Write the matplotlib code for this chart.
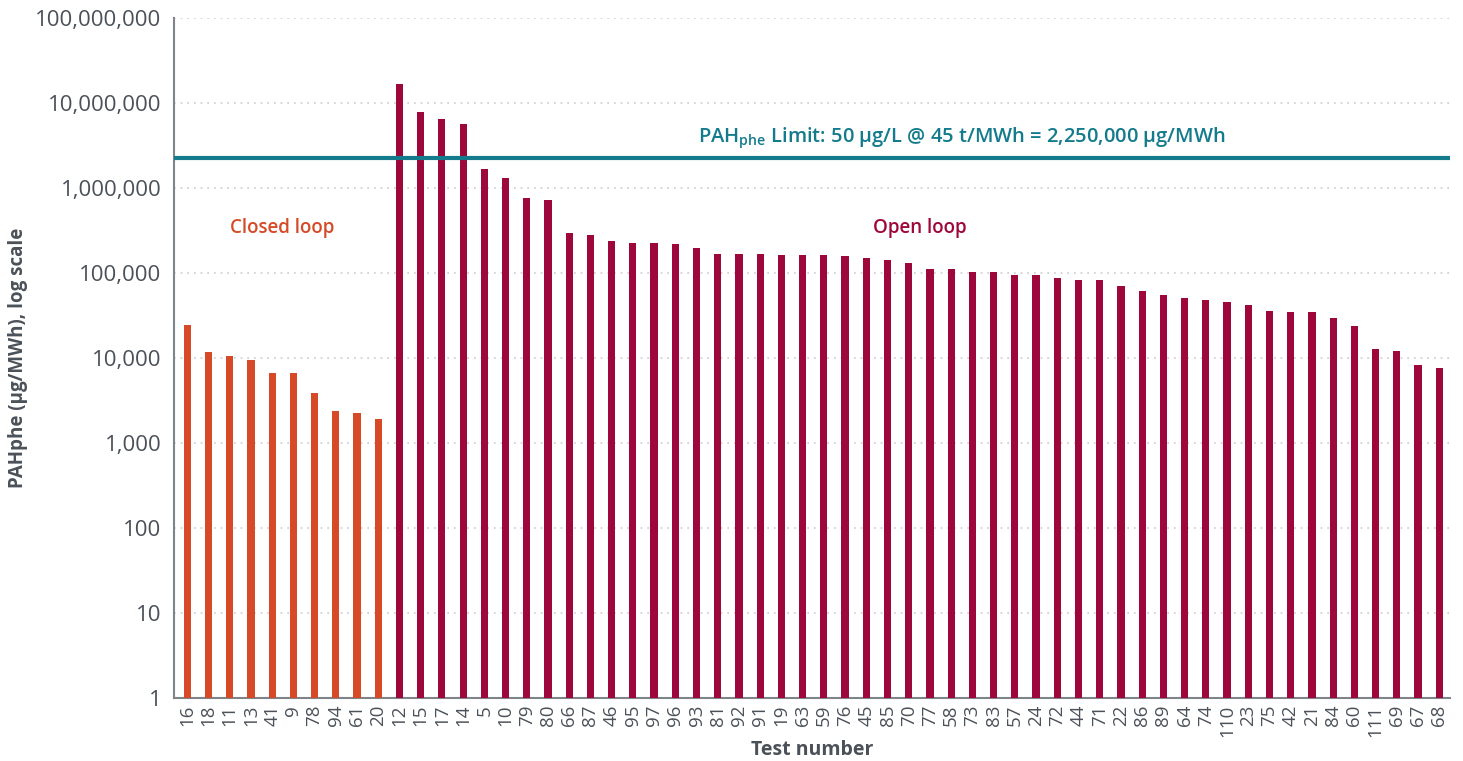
import numpy as np
import matplotlib
matplotlib.use('Agg')
import matplotlib.pyplot as plt
from matplotlib.ticker import FixedLocator, FuncFormatter, NullLocator

# closed loop tests
closed_tests = ['16', '18', '11', '13', '41', '9', '78', '94', '61', '20']
closed_vals = [24400, 11800, 10500, 9500, 6700, 6700, 3870, 2380, 2240, 1920]

# open loop tests
open_tests = ['12', '15', '17', '14', '5', '10', '79', '80', '66', '87',
              '46', '95', '97', '96', '93', '81', '92', '91', '19', '63',
              '59', '76', '45', '85', '70', '77', '58', '73', '83', '57',
              '24', '72', '44', '71', '22', '86', '89', '64', '74', '110',
              '23', '75', '42', '21', '84', '60', '111', '69', '67', '68']
open_vals = [16700000, 7900000, 6600000, 5700000, 1670000, 1310000, 770000, 730000, 300000, 283000,
             240000, 227000, 227000, 220000, 196000, 170000, 170000, 170000, 165000, 165000,
             165000, 158000, 150000, 144000, 131000, 112000, 112000, 102000, 102000, 95000,
             95000, 88000, 83000, 83000, 70000, 62000, 55000, 51000, 48000, 46000,
             42000, 36000, 35000, 35000, 30000, 24000, 12700, 12000, 8300, 7700]

limit_value = 2250000
y_ticks = [1, 10, 100, 1000, 10000, 100000, 1000000, 10000000, 100000000]

CLOSED_COLOR = '#D64A27'
OPEN_COLOR = '#9E073B'
LIMIT_COLOR = '#137B8C'
TEXT_COLOR = '#4B5159'
SPINE_COLOR = '#7F848A'

plt.rcParams['font.family'] = ['Open Sans', 'DejaVu Sans']

fig = plt.figure(figsize=(14.63, 7.61), dpi=100)
ax = fig.add_axes([0.119, 0.083, 0.872, 0.893])

x_closed = np.arange(len(closed_tests))
x_open = np.arange(len(open_tests)) + len(closed_tests)

ax.bar(x_closed, closed_vals, width=0.34, color=CLOSED_COLOR, zorder=3)
ax.bar(x_open, open_vals, width=0.34, color=OPEN_COLOR, zorder=3)

ax.set_yscale('log')
ax.set_ylim(1, 1e8)
ax.set_xlim(-0.62, len(closed_tests) + len(open_tests) - 0.5)

ax.yaxis.set_major_locator(FixedLocator(y_ticks))
ax.yaxis.set_minor_locator(NullLocator())
ax.yaxis.set_major_formatter(FuncFormatter(lambda v, p: f'{int(round(v)):,}'))

ax.axhline(limit_value, color=LIMIT_COLOR, linewidth=3, zorder=4)
ax.text(36.5, 3.9e6, r'PAH$_{\mathregular{phe}}$ Limit: 50 µg/L @ 45 t/MWh = 2,250,000 µg/MWh',
        color=LIMIT_COLOR, fontsize=14.5, fontweight='semibold', ha='center', va='center')

ax.text(4.47, 3.4e5, 'Closed loop', color=CLOSED_COLOR, fontsize=13.5,
        fontweight='semibold', ha='center', va='center')
ax.text(34.5, 3.4e5, 'Open loop', color=OPEN_COLOR, fontsize=13.5,
        fontweight='semibold', ha='center', va='center')

ax.set_xticks(np.concatenate([x_closed, x_open]))
ax.set_xticklabels(closed_tests + open_tests, rotation=90)

ax.tick_params(axis='both', length=0, colors=TEXT_COLOR)
ax.tick_params(axis='y', pad=9, labelsize=16)
ax.tick_params(axis='x', pad=5, labelsize=13.5)

ax.grid(axis='y', color='#CCCCCC', linestyle=(0, (1, 3)), linewidth=1.2, zorder=0)

for side in ['top', 'right']:
    ax.spines[side].set_visible(False)
ax.spines['left'].set_color(SPINE_COLOR)
ax.spines['bottom'].set_color(SPINE_COLOR)
ax.spines['left'].set_linewidth(1.5)
ax.spines['bottom'].set_linewidth(1.5)

ax.set_xlabel('Test number', fontsize=14, fontweight='bold', color=TEXT_COLOR, labelpad=2)
ax.set_ylabel('PAHphe (µg/MWh), log scale', fontsize=13.5, fontweight='bold', color=TEXT_COLOR,
              va='center')
ax.yaxis.set_label_coords(-0.122, 0.5)

fig.savefig('out.png', dpi=100)
plt.close(fig)
